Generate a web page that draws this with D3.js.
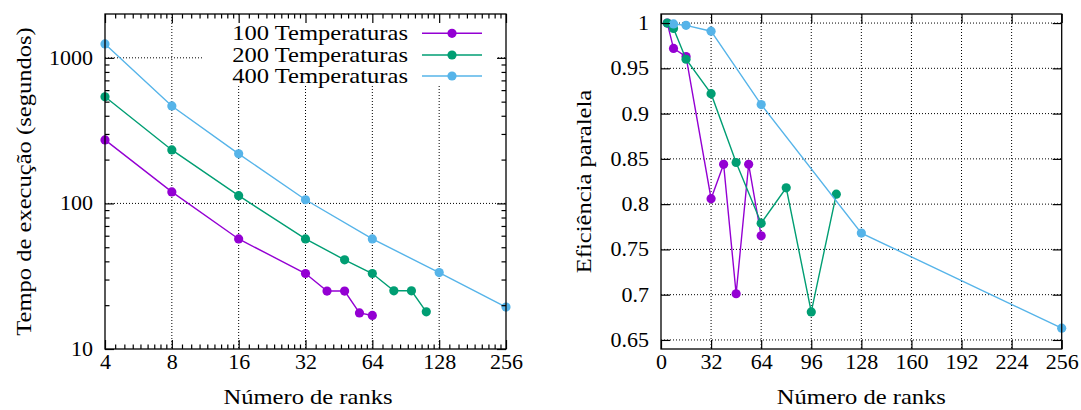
<!DOCTYPE html>
<html><head><meta charset="utf-8">
<script src="https://cdn.jsdelivr.net/npm/d3@7"></script>
<style>
html,body{margin:0;padding:0;background:#fff;}
svg, svg text{font-family:"Liberation Serif",serif !important;fill:#000;}
</style></head>
<body>
<svg id="c" width="1081" height="410" font-family="Liberation Serif"></svg>
<script>
// ---------- data ----------
const seriesNames = ["100 Temperaturas","200 Temperaturas","400 Temperaturas"];
const colors = ["#9400d3","#009e73","#56b4e9"];

const ranks100 = [4,8,16,32,40,48,56,64];
const time100  = [273,120,57,33,25,25,17.7,17];
const ranks200 = [4,8,16,32,48,64,80,96,112];
const time200  = [540,233,113,57,41,33,25.1,25.1,18];
const ranks400 = [4,8,16,32,64,128,256];
const time400  = [1245,467,219,106,57,33.5,19.4];

const effRanks100 = [4,8,16,32,40,48,56,64];
const eff100      = [1.0,0.972,0.963,0.806,0.844,0.701,0.844,0.765];
const effRanks200 = [4,8,16,32,48,64,80,96,112];
const eff200      = [1.0,0.994,0.960,0.922,0.846,0.779,0.818,0.681,0.811];
const effRanks400 = [8,16,32,64,128,256];
const eff400      = [0.999,0.9975,0.991,0.910,0.768,0.663];

const leftXTicks  = [4,8,16,32,64,128,256];
const leftYTicks  = [10,100,1000];
const rightXTicks = [0,32,64,96,128,160,192,224,256];
const rightYTicks = [0.65,0.7,0.75,0.8,0.85,0.9,0.95,1];

const timeSeries = [[ranks100,time100],[ranks200,time200],[ranks400,time400]];
const effSeries  = [[effRanks100,eff100],[effRanks200,eff200],[effRanks400,eff400]];

// ---------- layout ----------
const svg = d3.select("#c");
const FONT = "'Liberation Serif', serif";
const L = {x0:105, x1:506, y0:14, y1:349};
const R = {x0:661, x1:1061.7, y0:14, y1:349};
const MAJ = 9, MIN = 4.5, PT = 4.6;
const tickFont = "20px", labelFont = "21px", legendFont = "21px";
const SX = 1.17, TSX = 1.1;   // horizontal glyph stretch (reference font is wide)

const xL = d3.scaleLog().base(2).domain([4,256]).range([L.x0,L.x1]);
const yL = d3.scaleLog().domain([10,2000]).range([L.y1,L.y0]);
const xR = d3.scaleLinear().domain([0,256]).range([R.x0,R.x1]);
const yR = d3.scaleLinear().domain([0.64,1.01]).range([R.y1,R.y0]);

// minor ticks for log axes
const xMinor = [];
for (let a=4; a<256; a*=2) for (let k=1;k<=8;k++) xMinor.push(a*(1+k/9));
const yMinor = [];
for (let a=10; a<2000; a*=10) for (let k=2;k<=9;k++) if (a*k<2000) yMinor.push(a*k);

function grid(g, xs, ys, P, xt, yt) {
  const gg = g.append("g").attr("stroke","#000").attr("stroke-width",1)
     .attr("stroke-dasharray","1,2");
  xt.filter(v => xs(v)>P.x0+1 && xs(v)<P.x1-1).forEach(v=>{
    gg.append("line").attr("x1",xs(v)).attr("x2",xs(v)).attr("y1",P.y0).attr("y2",P.y1);
  });
  yt.filter(v => ys(v)>P.y0+1 && ys(v)<P.y1-1).forEach(v=>{
    gg.append("line").attr("x1",P.x0).attr("x2",P.x1).attr("y1",ys(v)).attr("y2",ys(v));
  });
}

function axes(g, xs, ys, P, xt, yt, xfmt, yfmt, xmin, ymin) {
  const style = sel => { sel.select(".domain").remove();
    sel.attr("font-family",FONT).attr("font-size",tickFont);
    sel.selectAll("line").attr("stroke","#000").attr("stroke-width",1.2);
    sel.selectAll("text").style("font-size",tickFont).style("font-family",FONT); };
  const bx = g.append("g").attr("transform",`translate(0,${P.y1})`)
    .call(d3.axisBottom(xs).tickValues(xt).tickFormat(xfmt).tickSizeInner(-MAJ).tickSizeOuter(0).tickPadding(6)).call(style);
  bx.selectAll("text").attr("transform",`scale(${TSX},1)`);
  g.append("g").attr("transform",`translate(0,${P.y0})`)
    .call(d3.axisTop(xs).tickValues(xt).tickFormat("").tickSizeInner(-MAJ).tickSizeOuter(0)).call(style);
  const ly = g.append("g").attr("transform",`translate(${P.x0},0)`)
    .call(d3.axisLeft(ys).tickValues(yt).tickFormat(yfmt).tickSizeInner(-MAJ).tickSizeOuter(0).tickPadding(12)).call(style);
  ly.selectAll("text").attr("transform",`scale(${TSX},1)`).attr("x",-12/TSX);
  g.append("g").attr("transform",`translate(${P.x1},0)`)
    .call(d3.axisRight(ys).tickValues(yt).tickFormat("").tickSizeInner(-MAJ).tickSizeOuter(0)).call(style);
  if (xmin) {
    g.append("g").attr("transform",`translate(0,${P.y1})`)
      .call(d3.axisBottom(xs).tickValues(xmin).tickFormat("").tickSizeInner(-MIN).tickSizeOuter(0)).call(style);
    g.append("g").attr("transform",`translate(0,${P.y0})`)
      .call(d3.axisTop(xs).tickValues(xmin).tickFormat("").tickSizeInner(-MIN).tickSizeOuter(0)).call(style);
  }
  if (ymin) {
    g.append("g").attr("transform",`translate(${P.x0},0)`)
      .call(d3.axisLeft(ys).tickValues(ymin).tickFormat("").tickSizeInner(-MIN).tickSizeOuter(0)).call(style);
    g.append("g").attr("transform",`translate(${P.x1},0)`)
      .call(d3.axisRight(ys).tickValues(ymin).tickFormat("").tickSizeInner(-MIN).tickSizeOuter(0)).call(style);
  }
  g.append("rect").attr("x",P.x0).attr("y",P.y0).attr("width",P.x1-P.x0).attr("height",P.y1-P.y0)
    .attr("fill","none").attr("stroke","#000").attr("stroke-width",1.3);
}

function drawSeries(g, xs, ys, series) {
  series.forEach(([xv,yv],i) => {
    const pts = xv.map((x,j)=>[x,yv[j]]);
    g.append("path").datum(pts).attr("fill","none").attr("stroke",colors[i]).attr("stroke-width",1.4)
      .attr("d", d3.line().x(d=>xs(d[0])).y(d=>ys(d[1])));
    g.selectAll(null).data(pts).enter().append("circle")
      .attr("cx",d=>xs(d[0])).attr("cy",d=>ys(d[1])).attr("r",PT).attr("fill",colors[i]);
  });
}

function label(g, x, y, txt, size, anchor, rot) {
  g.append("text")
    .attr("transform",`translate(${x},${y})${rot?` rotate(${rot})`:""} scale(${SX},1)`)
    .attr("text-anchor",anchor).attr("font-family",FONT)
    .style("font-family",FONT).style("font-size",size).text(txt.normalize("NFC"));
}

// ---------- left chart ----------
const gL = svg.append("g");
grid(gL, xL, yL, L, leftXTicks, leftYTicks);
gL.append("rect").attr("x",203).attr("y",L.y0+1).attr("width",293).attr("height",70).attr("fill","#fff");
drawSeries(gL, xL, yL, timeSeries);
axes(gL, xL, yL, L, leftXTicks, leftYTicks, d3.format("d"), d3.format("d"), xMinor, yMinor);

// legend
const legY = [33.3, 55, 76];
seriesNames.forEach((n,i)=>{
  label(gL, 408, legY[i]+6.5, n, legendFont, "end", 0);
  gL.append("line").attr("x1",422).attr("x2",482).attr("y1",legY[i]).attr("y2",legY[i])
    .attr("stroke",colors[i]).attr("stroke-width",1.4);
  gL.append("circle").attr("cx",452).attr("cy",legY[i]).attr("r",PT).attr("fill",colors[i]);
});

label(gL, 308, 404, "Número de ranks", labelFont, "middle", 0);
label(gL, 31, (L.y0+L.y1)/2, "Tempo de execução (segundos)", labelFont, "middle", -90);

// ---------- right chart ----------
const gR = svg.append("g");
grid(gR, xR, yR, R, rightXTicks, rightYTicks);
drawSeries(gR, xR, yR, effSeries);
axes(gR, xR, yR, R, rightXTicks, rightYTicks, d3.format("d"), d => d3.format("")(+d.toFixed(2)), null, null);

label(gR, (R.x0+R.x1)/2, 404, "Número de ranks", labelFont, "middle", 0);
label(gR, 591, (R.y0+R.y1)/2, "Eficiência paralela", labelFont, "middle", -90);
</script>
</body></html>
